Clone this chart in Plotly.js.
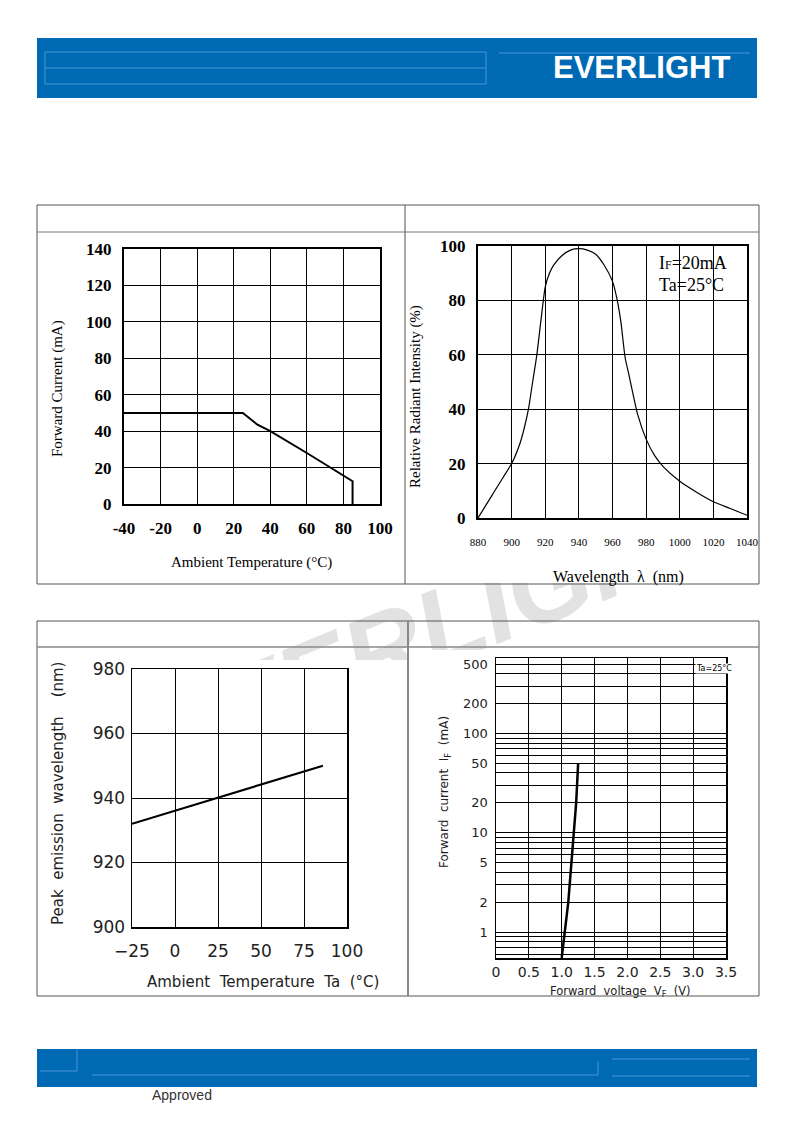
<!DOCTYPE html>
<html><head><meta charset="utf-8">
<script src="https://cdn.plot.ly/plotly-3.0.1.min.js"></script>
<style>html,body{margin:0;padding:0;background:#fff}#chart{width:794px;height:1123px}</style>
</head><body><div id="chart"></div>
<script>
// ---- data ----
const deratingTemp = [-40, 25, 33, 40, 60, 85, 85];
const deratingCurrent = [50, 50, 43.5, 40, 28, 12.5, 0];
const deratingXTicks = [-40, -20, 0, 20, 40, 60, 80, 100];
const deratingXText = ['-40', '-20', '0', '20', '40', '60', '80', '100'];
const deratingYTicks = [0, 20, 40, 60, 80, 100, 120, 140];

const spectrumWavelength = [880,885,890,895,900,905,907.5,910,912.5,915,917.5,920,922.5,925,930,935,940,945,950,955,960,962.5,965,967.5,970,975,980,985,990,1000,1010,1020,1030,1040];
const spectrumIntensity  = [0,5,10,15,20,27.5,33,40,50,60,73,85,90,93,96.5,98.5,99,98.5,97,93,87,81,72,59,52,38,29,23,19,13.5,9.5,6,3.5,1];
const spectrumXTicks = [880, 900, 920, 940, 960, 980, 1000, 1020, 1040];
const spectrumYTicks = [0, 20, 40, 60, 80, 100];

const peakTemp = [-25, 25, 86];
const peakWavelength = [932, 940, 950];
const peakXTicks = [-25, 0, 25, 50, 75, 100];
const peakXText = ['\u221225', '0', '25', '50', '75', '100'];
const peakYTicks = [900, 920, 940, 960, 980];

const ivVoltage = [1.0, 1.1, 1.22, 1.25];
const ivCurrent = [0.55, 2, 20, 50];
const ivXTicks = [0, 0.5, 1.0, 1.5, 2.0, 2.5, 3.0, 3.5];
const ivXText = ['0', '0.5', '1.0', '1.5', '2.0', '2.5', '3.0', '3.5'];
const ivYTicks = [1, 2, 5, 10, 20, 50, 100, 200, 500];
const ivYMinor = [0.6, 0.7, 0.8, 0.9, 3, 4, 6, 7, 8, 9, 30, 40, 60, 70, 80, 90, 300, 400];

// ---- helpers (page pixels -> paper fractions) ----
const W = 794, H = 1123;
const px = x => x / W;
const py = y => 1 - y / H;

const SERIF = 'Liberation Serif, Times New Roman, serif';
const SANS = 'DejaVu Sans, sans-serif';

function frameAxis(extra) {
  return Object.assign({
    showgrid: true, gridcolor: '#000', gridwidth: 1,
    showline: true, linecolor: '#000', linewidth: 2, mirror: true,
    zeroline: false, ticks: '', fixedrange: true
  }, extra);
}

const traces = [
  { x: deratingTemp, y: deratingCurrent, xaxis: 'x', yaxis: 'y', mode: 'lines',
    line: { color: '#000', width: 2 }, hoverinfo: 'skip', showlegend: false },
  { x: spectrumWavelength, y: spectrumIntensity, xaxis: 'x2', yaxis: 'y2', mode: 'lines',
    line: { color: '#000', width: 1.2, shape: 'spline', smoothing: 0.6 }, hoverinfo: 'skip', showlegend: false },
  { x: peakTemp, y: peakWavelength, xaxis: 'x3', yaxis: 'y3', mode: 'lines',
    line: { color: '#000', width: 2.2 }, hoverinfo: 'skip', showlegend: false },
  { x: ivVoltage, y: ivCurrent, xaxis: 'x4', yaxis: 'y4', mode: 'lines',
    line: { color: '#000', width: 2.5 }, hoverinfo: 'skip', showlegend: false }
];

const blue = '#0069b4', lightBlue = '#4a95d8';
function pline(x0, y0, x1, y1, color, width, layer) {
  return { type: 'line', xref: 'paper', yref: 'paper', x0: px(x0), y0: py(y0), x1: px(x1), y1: py(y1),
           line: { color: color, width: width }, layer: layer || 'above' };
}
function prect(x0, y0, x1, y1, fill, lineColor, lineWidth, layer) {
  return { type: 'rect', xref: 'paper', yref: 'paper', x0: px(x0), y0: py(y0), x1: px(x1), y1: py(y1),
           fillcolor: fill, line: { color: lineColor || 'rgba(0,0,0,0)', width: lineWidth || 0 }, layer: layer || 'above' };
}

const shapes = [
  // header
  prect(37, 38, 757, 98, blue),
  prect(45, 52, 486, 84, 'rgba(0,0,0,0)', lightBlue, 1),
  pline(45, 68, 486, 68, lightBlue, 1),
  pline(499, 53, 750, 53, lightBlue, 1),
  // footer
  prect(37, 1049, 757, 1087, blue),
  pline(40, 1071, 77, 1071, lightBlue, 1),
  pline(77, 1049, 77, 1071, lightBlue, 1),
  pline(92, 1075, 598, 1075, lightBlue, 1),
  pline(598, 1061, 598, 1075, lightBlue, 1),
  pline(612, 1059, 750, 1059, lightBlue, 1),
  pline(612, 1076, 750, 1076, lightBlue, 1),
  // watermark
  { type: 'rect', xref: 'paper', yref: 'paper', x0: px(130), x1: px(730), y0: py(705), y1: py(535),
    line: { width: 0 }, fillcolor: 'rgba(0,0,0,0)', layer: 'below',
    label: { text: 'EVERLIGHT', textangle: -22, textposition: 'middle center',
             font: { family: 'Liberation Sans, Arial, sans-serif', size: 108, color: '#e2e2e2', weight: 'bold', style: 'italic' } } },
  // chart areas covering the watermark
  prect(38, 234, 404, 583, '#fff', null, 0, 'below'),
  prect(406, 234, 758, 583, '#fff', null, 0, 'below'),
  prect(38, 660, 407, 995, '#fff', null, 0, 'below'),
  prect(409, 650, 758, 995, '#fff', null, 0, 'below'),
  // panel borders
  prect(37, 205, 759, 584, 'rgba(0,0,0,0)', '#555', 1, 'below'),
  pline(37, 232, 759, 232, '#777', 1, 'below'),
  pline(405, 205, 405, 584, '#555', 1, 'below'),
  prect(37, 621, 759, 996, 'rgba(0,0,0,0)', '#555', 1, 'below'),
  pline(37, 647, 759, 647, '#888', 1.5, 'below'),
  pline(408, 621, 408, 996, '#888', 2, 'below')
];

function ann(text, x, y, opts) {
  return Object.assign({ text: text, xref: 'paper', yref: 'paper', x: px(x), y: py(y),
    showarrow: false, xanchor: 'center', yanchor: 'middle' }, opts);
}

const annotations = [
  ann('EVERLIGHT', 641, 68, { font: { family: 'Liberation Sans, Arial, sans-serif', size: 31, color: '#fff', weight: 'bold' } }),
  ann('Approved', 150, 1095, { xanchor: 'left', font: { family: 'Liberation Sans Narrow, Liberation Sans, sans-serif', size: 14, color: '#333' } }),
  // top-left titles
  ann('Forward Current (mA)', 58, 389, { textangle: -90, font: { family: SERIF, size: 15, color: '#000' } }),
  ann('Ambient Temperature (\u00b0C)', 251, 562, { font: { family: SERIF, size: 15, color: '#000' } }),
  // top-right titles
  ann('Relative Radiant Intensity (%)', 415, 397, { textangle: -90, font: { family: SERIF, size: 15, color: '#000' } }),
  ann('Wavelength  \u03bb  (nm)', 618, 577, { font: { family: SERIF, size: 16, color: '#000' } }),
  ann("I<span style='font-size:12px'>F</span>=20mA", 657, 263, { xanchor: 'left', font: { family: SERIF, size: 18, color: '#000' } }),
  ann('Ta=25\u00b0C', 657, 285, { xanchor: 'left', font: { family: SERIF, size: 18, color: '#000' } }),
  // bottom-left titles
  ann('Peak  emission  wavelength    (nm)', 58, 794, { textangle: -90, font: { family: SANS, size: 15, color: '#222' } }),
  ann('Ambient  Temperature  Ta  (\u00b0C)', 263, 982, { font: { family: SANS, size: 15, color: '#222' } }),
  // bottom-right titles
  ann('Forward  current  I<sub>F</sub>  (mA)', 445, 792, { textangle: -90, font: { family: SANS, size: 12, color: '#222' } }),
  ann('Forward  voltage  V<sub>F</sub>  (V)', 620, 991, { font: { family: SANS, size: 11.5, color: '#222' } }),
  ann('Ta=25\u00b0C', 695, 668, { xanchor: 'left', bgcolor: '#fff', borderpad: 0, font: { family: SANS, size: 8, color: '#000' } })
];

const layout = {
  width: W, height: H,
  margin: { l: 0, r: 0, t: 0, b: 0, pad: 0 },
  paper_bgcolor: '#fff', plot_bgcolor: 'rgba(0,0,0,0)',
  showlegend: false,
  xaxis: frameAxis({ domain: [px(124), px(380)], range: [-40, 100], tickmode: 'array', tickvals: deratingXTicks, ticktext: deratingXText,
    anchor: 'y', ticklabelstandoff: 8, tickfont: { family: SERIF, size: 17, color: '#000', weight: 'bold' } }),
  yaxis: frameAxis({ domain: [py(504), py(249)], range: [0, 140], tickmode: 'array', tickvals: deratingYTicks,
    anchor: 'x', ticklabelstandoff: 7, tickfont: { family: SERIF, size: 17, color: '#000', weight: 'bold' } }),
  xaxis2: frameAxis({ domain: [px(478), px(747)], range: [880, 1040], tickmode: 'array', tickvals: spectrumXTicks,
    anchor: 'y2', ticklabelstandoff: 13, tickfont: { family: SERIF, size: 11, color: '#000' } }),
  yaxis2: frameAxis({ domain: [py(518), py(246)], range: [0, 100], tickmode: 'array', tickvals: spectrumYTicks,
    anchor: 'x2', ticklabelstandoff: 7, tickfont: { family: SERIF, size: 17, color: '#000', weight: 'bold' } }),
  xaxis3: frameAxis({ domain: [px(132), px(347)], range: [-25, 100], tickmode: 'array', tickvals: peakXTicks, ticktext: peakXText,
    anchor: 'y3', linewidth: 1.5, ticklabelstandoff: 8, tickfont: { family: SANS, size: 17, color: '#222' } }),
  yaxis3: frameAxis({ domain: [py(927), py(669)], range: [900, 980], tickmode: 'array', tickvals: peakYTicks,
    anchor: 'x3', linewidth: 1.5, ticklabelstandoff: 2, tickfont: { family: SANS, size: 17, color: '#222' } }),
  xaxis4: frameAxis({ domain: [px(496), px(726)], range: [0, 3.5], tickmode: 'array', tickvals: ivXTicks, ticktext: ivXText,
    anchor: 'y4', linewidth: 1.5, ticklabelstandoff: 1, tickfont: { family: SANS, size: 14, color: '#222' } }),
  yaxis4: frameAxis({ domain: [py(958), py(658)], type: 'log', range: [Math.log10(0.548), 2.76], tickmode: 'array',
    tickvals: ivYTicks, ticktext: ivYTicks.map(String),
    minor: { tickmode: 'array', tickvals: ivYMinor, showgrid: true, gridcolor: '#000', gridwidth: 1, ticks: '' },
    anchor: 'x4', linewidth: 1.5, ticklabelstandoff: 4, tickfont: { family: SANS, size: 13, color: '#222' } }),
  shapes: shapes,
  annotations: annotations
};

Plotly.newPlot('chart', traces, layout, { displayModeBar: false, staticPlot: true });
</script>
</body></html>
